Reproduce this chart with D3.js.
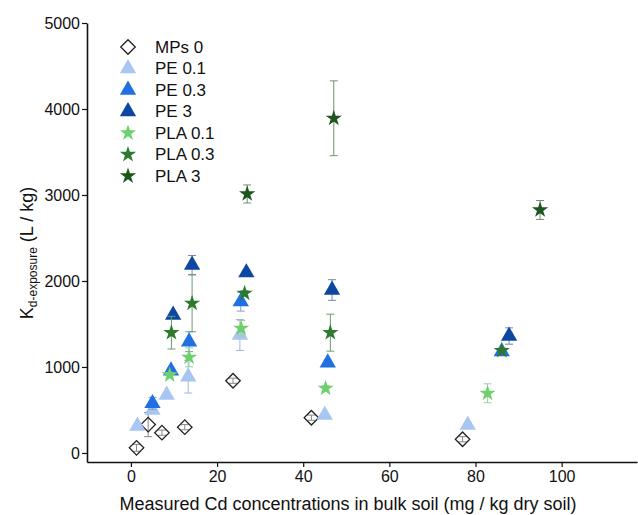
<!DOCTYPE html>
<html>
<head>
<meta charset="utf-8">
<script src="https://cdn.jsdelivr.net/npm/d3@7"></script>
<style>
  body { margin: 0; background: #fff; }
  svg text { font-family: "Liberation Sans", Arial, sans-serif; fill: #111; }
</style>
</head>
<body>
<div id="chart"></div>
<script>
var WIDTH = 638
var HEIGHT = 515

// series names, in legend order
var seriesNames = ['MPs 0', 'PE 0.1', 'PE 0.3', 'PE 3', 'PLA 0.1', 'PLA 0.3', 'PLA 3'];

// measured Cd (x), Kd-exposure (y) and error (sd)
var mps0X = [1.3, 4.0, 7.2, 12.5, 23.7, 41.9, 77.0];
var mps0Y = [60, 330, 236, 300, 840, 410, 160];
var mps0E = [40, 140, 30, 30, 30, 30, 30];

var pe01X = [1.5, 5.0, 8.3, 13.3, 25.3, 45.0, 78.2];
var pe01Y = [314, 500, 674, 887, 1372, 440, 326];
var pe01E = [20, 30, 20, 190, 180, 20, 20];

var pe03X = [5.0, 9.3, 13.5, 25.5, 45.7, 86.1];
var pe03Y = [577, 957, 1294, 1760, 1050, 1178];
var pe03E = [70, 30, 115, 110, 30, 30];

var pe3X = [9.8, 14.2, 26.8, 46.7, 87.8];
var pe3Y = [1605, 2186, 2097, 1895, 1360];
var pe3E = [30, 110, 30, 120, 95];

var pla01X = [9.0, 13.5, 25.6, 45.2, 82.8];
var pla01Y = [907, 1112, 1450, 752, 694];
var pla01E = [30, 110, 90, 30, 110];

var pla03X = [9.4, 14.2, 26.4, 46.3, 86.1];
var pla03Y = [1399, 1740, 1857, 1399, 1190];
var pla03E = [190, 330, 30, 215, 30];

var pla3X = [27.0, 47.1, 95.0];
var pla3Y = [3012, 3892, 2826];
var pla3E = [105, 435, 110];

var xTicks = [0, 20, 40, 60, 80, 100];
var yTicks = [0, 1000, 2000, 3000, 4000, 5000];

var seriesX = [mps0X, pe01X, pe03X, pe3X, pla01X, pla03X, pla3X];
var seriesY = [mps0Y, pe01Y, pe03Y, pe3Y, pla01Y, pla03Y, pla3Y];
var seriesE = [mps0E, pe01E, pe03E, pe3E, pla01E, pla03E, pla3E];

// look of each series
var fills = ['#ffffff', '#a9c5f2', '#2170e2', '#0d47a1', '#6cd06c', '#2b7a2e', '#1b561d'];
var strokes = ['#222222', 'none', 'none', 'none', 'none', 'none', 'none'];
var errColors = ['#888888', '#9fb6d8', '#7f9fcc', '#6f88b4', '#9fd19f', '#6f9a6f', '#6f8f6f'];
var shapes = ['diamond', 'triangle', 'triangle', 'triangle', 'star', 'star', 'star'];

var series = seriesNames.map((name, i) => {
    return {
        name: name,
        points: seriesX[i].map((x, j) => ({ x: x, y: seriesY[i][j], e: seriesE[i][j] })),
        fill: fills[i],
        stroke: strokes[i],
        errColor: errColors[i],
        shape: shapes[i]
    };
});

var xScale = d3.scaleLinear().domain([-10.2, 117.5]).range([87, 637]);
var yScale = d3.scaleLinear().domain([-105, 5000]).range([462, 23]);

function symbolPath(shape) {
    if (shape == 'triangle') return d3.symbol().type(d3.symbolTriangle).size(115)();
    if (shape == 'star') return d3.symbol().type(d3.symbolStar).size(82)();
    return d3.symbol().type(d3.symbolSquare).size(105)();
}

function symbolTransform(shape, x, y) {
    if (shape == 'diamond') return 'translate(' + x + ',' + y + ') rotate(45)';
    return 'translate(' + x + ',' + y + ')';
}

var svg = d3.select('#chart').append('svg')
    .attr('width', WIDTH)
    .attr('height', HEIGHT);

// axes
var xAxis = d3.axisBottom(xScale).tickValues(xTicks).tickFormat(d3.format('d')).tickSize(5).tickSizeOuter(0);
var yAxis = d3.axisLeft(yScale).tickValues(yTicks).tickFormat(d3.format('d')).tickSize(5).tickSizeOuter(0);

var gx = svg.append('g')
    .attr('transform', 'translate(0,462)')
    .call(xAxis);
gx.select('.domain').attr('stroke', '#111').attr('stroke-width', 1.6);
gx.selectAll('.tick line').attr('stroke', '#111').attr('stroke-width', 1.2);
gx.selectAll('.tick text')
    .attr('font-size', 16)
    .attr('dy', '0.71em')
    .attr('y', 9)
    .attr('font-family', '"Liberation Sans", Arial, sans-serif');

var gy = svg.append('g')
    .attr('transform', 'translate(87,0)')
    .call(yAxis);
gy.select('.domain').attr('stroke', '#111').attr('stroke-width', 1.6);
gy.selectAll('.tick line').attr('stroke', '#111').attr('stroke-width', 1.2);
gy.selectAll('.tick text')
    .attr('font-size', 16)
    .attr('x', -7)
    .attr('font-family', '"Liberation Sans", Arial, sans-serif');

// axis titles
svg.append('text')
    .attr('x', 348)
    .attr('y', 510)
    .attr('text-anchor', 'middle')
    .attr('font-size', 18)
    .text('Measured Cd concentrations in bulk soil (mg / kg dry soil)');

var yTitle = svg.append('text')
    .attr('transform', 'translate(33,253) rotate(-90)')
    .attr('text-anchor', 'middle')
    .attr('font-size', 18);
yTitle.append('tspan').text('K');
yTitle.append('tspan').attr('font-size', 12).attr('dy', 4).text('d-exposure');
yTitle.append('tspan').attr('dy', -4).text(' (L / kg)');

// points with error bars
var plot = svg.append('g');

series.forEach(s => {
    var g = plot.append('g').attr('class', 'series');

    var err = g.selectAll('.err')
        .data(s.points)
        .enter()
        .append('g')
        .attr('class', 'err')
        .attr('stroke', s.errColor)
        .attr('stroke-width', 1);

    err.append('line')
        .attr('x1', d => xScale(d.x))
        .attr('x2', d => xScale(d.x))
        .attr('y1', d => yScale(d.y + d.e))
        .attr('y2', d => yScale(d.y - d.e));
    err.append('line')
        .attr('x1', d => xScale(d.x) - 4)
        .attr('x2', d => xScale(d.x) + 4)
        .attr('y1', d => yScale(d.y + d.e))
        .attr('y2', d => yScale(d.y + d.e));
    err.append('line')
        .attr('x1', d => xScale(d.x) - 4)
        .attr('x2', d => xScale(d.x) + 4)
        .attr('y1', d => yScale(d.y - d.e))
        .attr('y2', d => yScale(d.y - d.e));

    g.selectAll('.mark')
        .data(s.points)
        .enter()
        .append('path')
        .attr('class', 'mark')
        .attr('d', symbolPath(s.shape))
        .attr('transform', d => symbolTransform(s.shape, xScale(d.x), yScale(d.y)))
        .attr('fill', s.fill)
        .attr('fill-opacity', s.shape == 'diamond' ? 0 : 1)
        .attr('stroke', s.stroke)
        .attr('stroke-width', 1.3);
});

// legend
var legend = svg.append('g').attr('transform', 'translate(128,47)');
var rows = legend.selectAll('.row')
    .data(series)
    .enter()
    .append('g')
    .attr('class', 'row')
    .attr('transform', (d, i) => 'translate(0,' + (i * 21.5) + ')');

rows.append('path')
    .attr('d', d => symbolPath(d.shape))
    .attr('transform', d => symbolTransform(d.shape, 0, 0))
    .attr('fill', d => d.fill)
    .attr('stroke', d => d.stroke)
    .attr('stroke-width', 1.3);

rows.append('text')
    .attr('x', 27)
    .attr('dy', '0.35em')
    .attr('font-size', 17)
    .text(d => d.name);
</script>
</body>
</html>
